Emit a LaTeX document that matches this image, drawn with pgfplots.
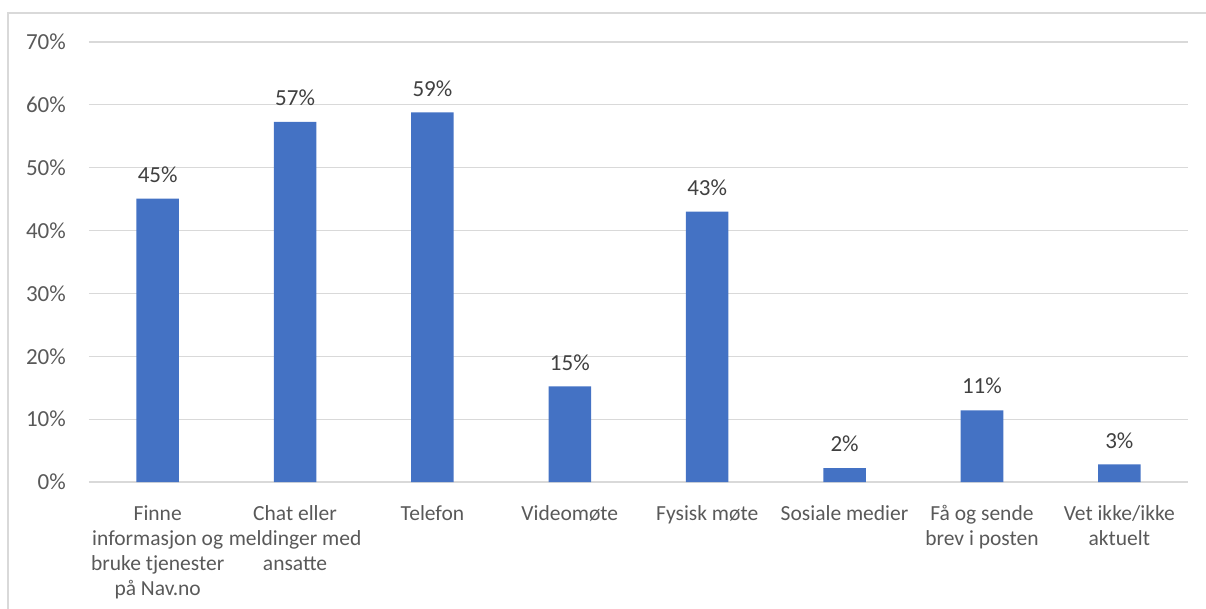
\documentclass[border=0pt]{standalone}
\usepackage{fontspec}
\setmainfont{Carlito}
\usepackage{pgfplots}
\pgfplotsset{compat=1.18}
\definecolor{barblue}{HTML}{4472C4}
\definecolor{gridgray}{HTML}{D9D9D9}
\definecolor{txtgray}{HTML}{595959}
\definecolor{lblgray}{HTML}{404040}
\begin{document}
\begin{tikzpicture}[x=1pt,y=1pt]
\path[use as bounding box] (-89,-126) rectangle (1117,482);
\draw[gridgray, line width=1.2pt] (-81,-140) -- (-81,469) -- (1130,469);
\begin{axis}[
  at={(0,0)}, anchor=south west, scale only axis,
  width=1099pt, height=440pt,
  xmin=-0.5, xmax=7.5, ymin=0, ymax=70,
  ytick={0,10,20,30,40,50,60,70},
  /pgf/number format/assume math mode=true,
  yticklabel={\pgfmathprintnumber{\tick}\%},
  ymajorgrids, major grid style={gridgray, line width=1.2pt},
  axis line style={draw=none}, tick style={draw=none},
  xtick=data,
  xticklabels={{Finne\\informasjon og\\bruke tjenester\\på Nav.no},{Chat eller\\meldinger med\\ansatte},{Telefon},{Videomøte},{Fysisk møte},{Sosiale medier},{Få og sende\\brev i posten},{Vet ikke/ikke\\aktuelt}},
  x tick label style={align=center, font=\fontsize{21.5}{25}\selectfont, text=txtgray, anchor=north, inner sep=0pt, yshift=-19pt},
  y tick label style={font=\fontsize{23}{25}\selectfont, text=txtgray, anchor=east, inner sep=0pt, xshift=-23pt},
  ybar, bar width=42.6pt,
  nodes near coords={\pgfmathprintnumber[fixed, precision=0]{\pgfplotspointmeta}\%},
  nodes near coords style={font=\fontsize{23}{25}\selectfont, text=lblgray, anchor=south, inner sep=0pt, yshift=16pt},
]
\addplot[fill=barblue, draw=none] coordinates {(0,45.1) (1,57.3) (2,58.8) (3,15.2) (4,43.0) (5,2.2) (6,11.4) (7,2.8)};
\end{axis}
\end{tikzpicture}
\end{document}
